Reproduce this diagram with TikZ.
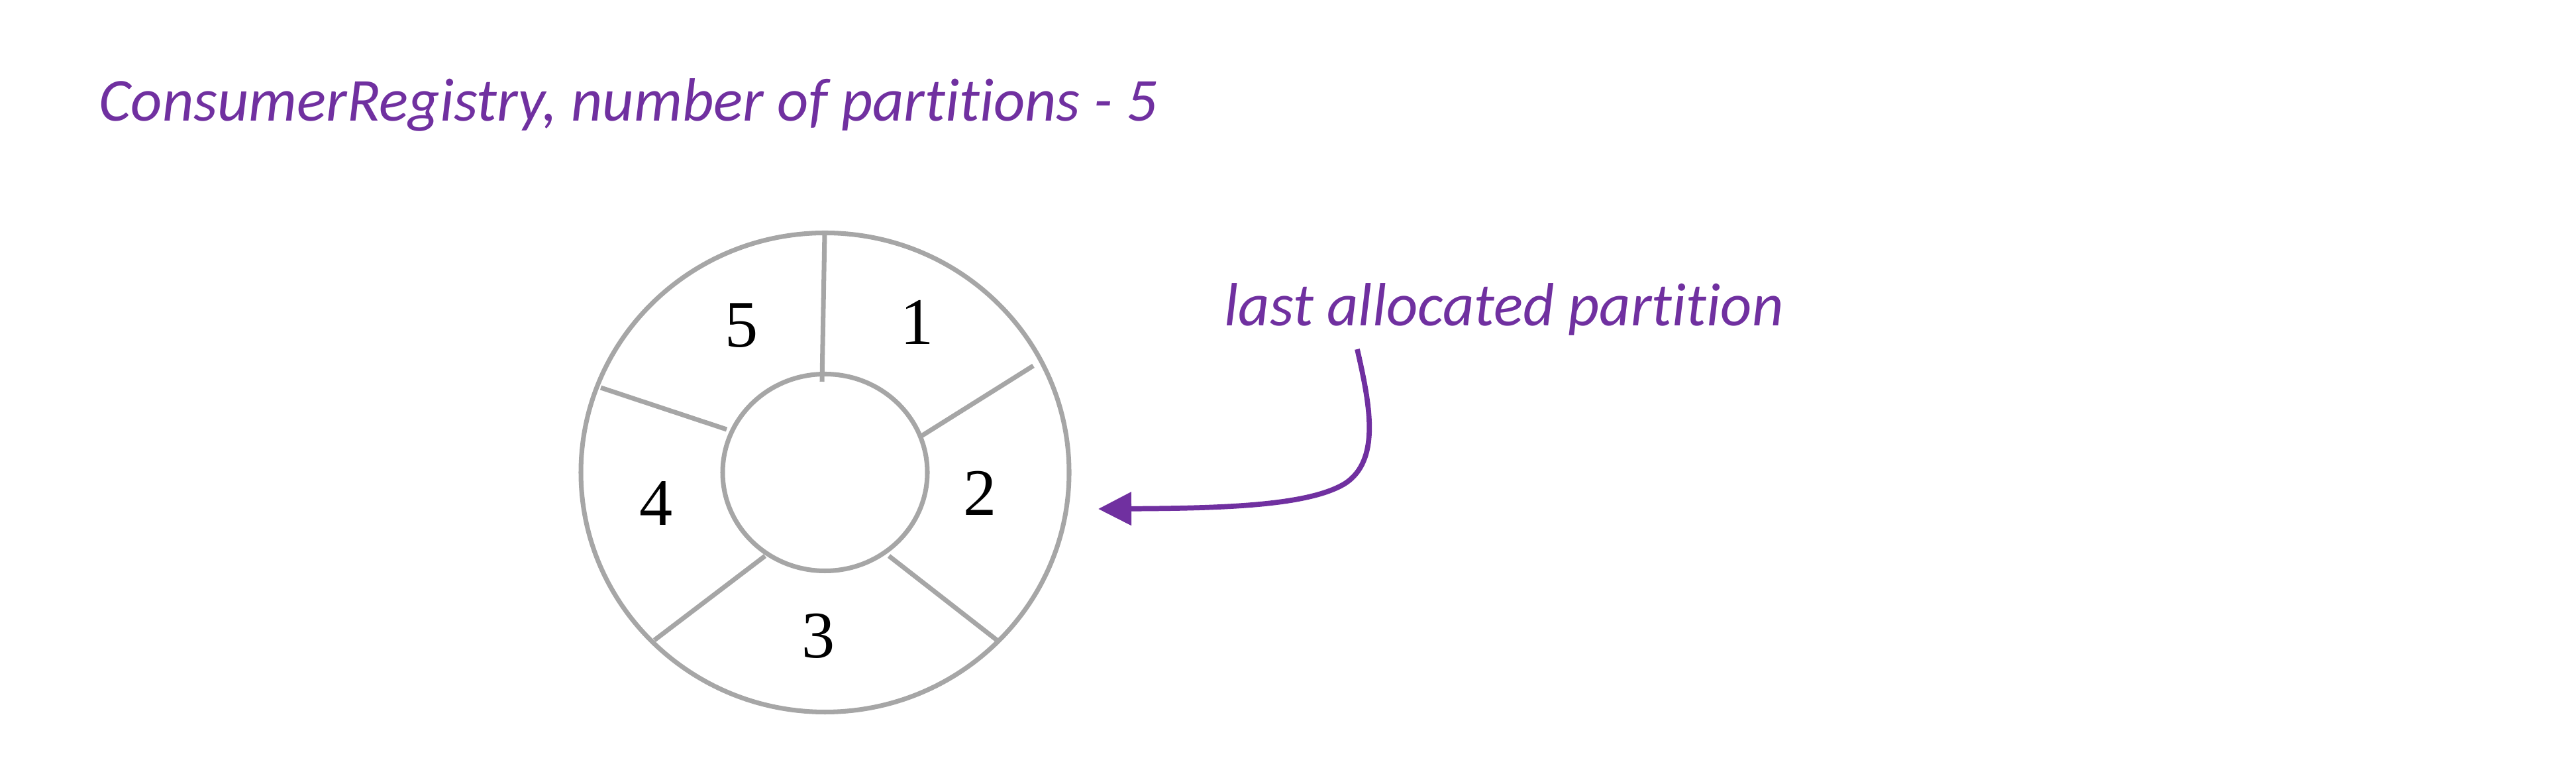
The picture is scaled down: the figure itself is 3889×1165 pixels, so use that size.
\documentclass[tikz,border=0pt]{standalone}
\usepackage{fontspec}
\setmainfont{Liberation Serif}
\newfontfamily\calfont[Ligatures=NoCommon]{Carlito}
\usetikzlibrary{arrows.meta}
\definecolor{ringgray}{HTML}{A6A6A6}
\definecolor{labelpurple}{HTML}{7030A0}
\tikzset{
  ring/.style={draw=ringgray, line width=2pt},
  spoke/.style={draw=ringgray, line width=2pt},
  partnum/.style={font=\fontsize{28.5}{30}\selectfont, text=black, inner sep=0pt},
  purpletext/.style={font=\calfont\itshape\fontsize{26.2}{31}\selectfont, text=labelpurple, inner sep=0pt, anchor=base west},
  pointer/.style={draw=labelpurple, line width=2.2pt, -{Triangle[length=0.5cm,width=0.49cm]}}
}
\begin{document}
\begin{tikzpicture}[x=0.01cm,y=-0.01cm]
\useasboundingbox (0,0) rectangle (3889,1165);
\node[purpletext] (title) at (149,183) {ConsumerRegistry, number of partitions - 5};
\coordinate (c) at (1245.5,713);
\draw[ring] (c) ellipse [x radius=368.5, y radius=361.5];
\draw[ring] (c) ellipse [x radius=154.5, y radius=148.5];
\coordinate (s0a) at (1241,576); \coordinate (s0b) at (1245,352);
\coordinate (s1a) at (1391,658); \coordinate (s1b) at (1560,552);
\coordinate (s2a) at (1342,839); \coordinate (s2b) at (1505,966);
\coordinate (s3a) at (1155,839); \coordinate (s3b) at (988,966);
\coordinate (s4a) at (1097,648); \coordinate (s4b) at (907,585);
\draw[spoke] (s0a) -- (s0b);
\draw[spoke] (s1a) -- (s1b);
\draw[spoke] (s2a) -- (s2b);
\draw[spoke] (s3a) -- (s3b);
\draw[spoke] (s4a) -- (s4b);
\node[partnum] (p5) at (1120,491) {5};
\node[partnum] (p1) at (1385,486) {1};
\node[partnum] (p2) at (1480,744) {2};
\node[partnum] (p4) at (991,760) {4};
\node[partnum] (p3) at (1236,960) {3};
\node[purpletext] (last) at (1848,492) {last allocated partition};
\coordinate (from) at (2049,527);
\coordinate (to) at (1658,768);
\draw[pointer] (from) .. controls (2068,610) and (2085,695) .. (2030,730) .. controls (1975,763) and (1850,767) .. (to);
\end{tikzpicture}
\end{document}
